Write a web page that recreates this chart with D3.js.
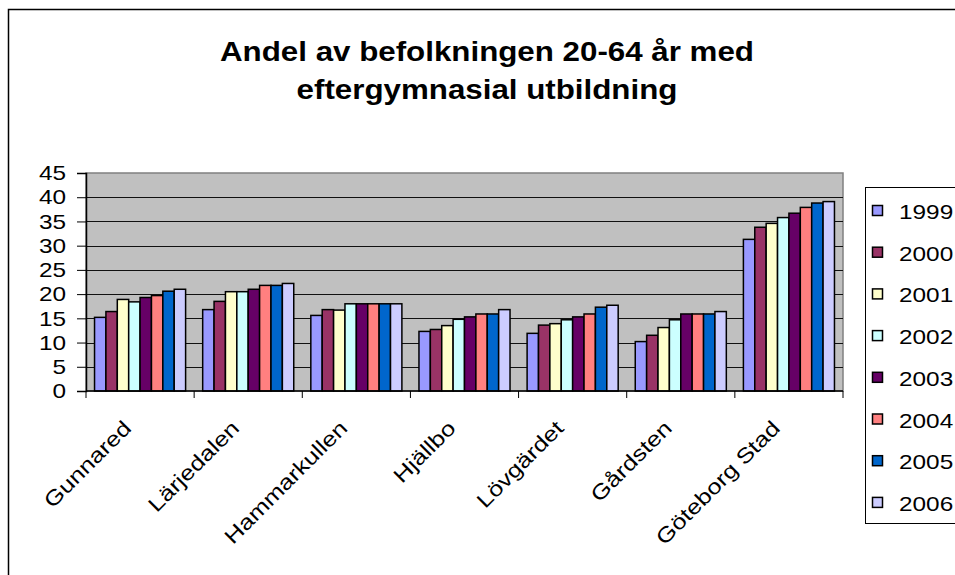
<!DOCTYPE html>
<html>
<head>
<meta charset="utf-8">
<script src="https://cdn.jsdelivr.net/npm/d3@7"></script>
<style>
  body { margin: 0; background: #fff; }
  svg text { font-family: "Liberation Sans", Arial, sans-serif; }
</style>
</head>
<body>
<svg id="chart" width="955" height="575"></svg>
<script>
// data
var omraden = ["Gunnared", "Lärjedalen", "Hammarkullen", "Hjällbo", "Lövgärdet", "Gårdsten", "Göteborg Stad"];
var ar = ["1999", "2000", "2001", "2002", "2003", "2004", "2005", "2006"];
var v1999 = [15.2, 16.8, 15.6, 12.3, 11.9, 10.2, 31.3];
var v2000 = [16.4, 18.5, 16.8, 12.7, 13.6, 11.5, 33.8];
var v2001 = [18.9, 20.5, 16.7, 13.5, 13.9, 13.1, 34.6];
var v2002 = [18.4, 20.5, 18.0, 14.8, 14.7, 14.7, 35.8];
var v2003 = [19.3, 21.0, 18.0, 15.3, 15.3, 15.9, 36.7];
var v2004 = [19.7, 21.8, 18.0, 15.9, 15.9, 15.9, 37.9];
var v2005 = [20.6, 21.8, 18.0, 15.9, 17.3, 15.9, 38.8];
var v2006 = [21.0, 22.2, 18.0, 16.8, 17.7, 16.4, 39.1];
var yTicks = [0, 5, 10, 15, 20, 25, 30, 35, 40, 45];
var titel = ["Andel av befolkningen 20-64 år med", "eftergymnasial utbildning"];

var serier = [v1999, v2000, v2001, v2002, v2003, v2004, v2005, v2006];
var color = ["#9999ff", "#993366", "#ffffcc", "#ccffff", "#660066", "#ff8080", "#0066cc", "#ccccff"];

// the original text is a bit wider than normal Arial
var sx = 1.16;

var svg = d3.select("#chart");

// outer chart border (runs off the picture right and bottom)
svg.append("rect")
  .attr("x", 8.5).attr("y", 9.5)
  .attr("width", 1000).attr("height", 1000)
  .attr("fill", "#fff").attr("stroke", "#000").attr("stroke-width", 1.5);

// title
svg.append("g")
  .attr("transform", "translate(487,61) scale(" + sx + ",1)")
  .append("text")
  .attr("text-anchor", "middle")
  .style("font-size", "27px").style("font-weight", "bold")
  .selectAll("tspan")
  .data(titel)
  .enter()
  .append("tspan")
    .attr("x", 0)
    .attr("dy", function(d, i) { return i == 0 ? 0 : 38; })
    .text(function(d) { return d; });

var pLeft = 86, pRight = 843, pTop = 173, pBottom = 391;

var x0 = d3.scaleBand()
  .domain(omraden)
  .range([pLeft, pRight])
  .paddingInner(1.5 / 9.5)
  .paddingOuter(0.75 / 9.5);

var x1 = d3.scaleBand()
  .domain(ar)
  .range([0, x0.bandwidth()]);

var y = d3.scaleLinear()
  .domain([0, 45])
  .range([pBottom, pTop]);

// plot area
svg.append("rect")
  .attr("x", pLeft).attr("y", pTop)
  .attr("width", pRight - pLeft).attr("height", pBottom - pTop)
  .attr("fill", "#c0c0c0").attr("stroke", "#808080").attr("stroke-width", 1.5);

// gridlines
svg.append("g")
  .selectAll("line")
  .data(yTicks.filter(function(d) { return d > 0 && d < 45; }))
  .enter()
  .append("line")
    .attr("x1", pLeft).attr("x2", pRight)
    .attr("y1", function(d) { return Math.round(y(d)) + 0.5; })
    .attr("y2", function(d) { return Math.round(y(d)) + 0.5; })
    .attr("stroke", "#111").attr("stroke-width", 1);

// bars
var grupper = svg.append("g")
  .selectAll("g")
  .data(serier)
  .enter()
  .append("g")
    .attr("fill", function(d, i) { return color[i]; });

grupper.selectAll("rect")
  .data(function(d, i) { return d.map(function(v, j) { return {ar: ar[i], omr: omraden[j], v: v}; }); })
  .enter()
  .append("rect")
    .attr("x", function(d) { return x0(d.omr) + x1(d.ar); })
    .attr("y", function(d) { return y(d.v); })
    .attr("width", x1.bandwidth())
    .attr("height", function(d) { return pBottom - y(d.v); })
    .attr("stroke", "#000").attr("stroke-width", 1.5);

// y axis
var yAxis = svg.append("g")
  .attr("transform", "translate(" + pLeft + ",0)")
  .call(d3.axisLeft(y).tickValues(yTicks).tickSize(9).tickPadding(0));
yAxis.select(".domain").attr("stroke", "#000").attr("stroke-width", 1.5);
yAxis.selectAll("line").attr("stroke", "#000");
yAxis.selectAll("text")
  .attr("x", 0)
  .attr("transform", "translate(-20,0) scale(" + sx + ",1)")
  .attr("font-family", null).attr("font-size", null)
  .style("font-size", "21px").attr("fill", "#000");

// x axis: ticks at category boundaries
var grans = omraden.map(function(d) { return x0(d) - x0.step() * x0.paddingInner() / 2; });
grans.push(pRight);
var xAxis = svg.append("g");
xAxis.append("line")
  .attr("x1", pLeft).attr("x2", pRight)
  .attr("y1", pBottom).attr("y2", pBottom)
  .attr("stroke", "#000").attr("stroke-width", 1.5);
xAxis.selectAll(".tick")
  .data(grans)
  .enter()
  .append("line")
    .attr("x1", function(d) { return d; }).attr("x2", function(d) { return d; })
    .attr("y1", pBottom).attr("y2", pBottom + 7)
    .attr("stroke", "#000");

xAxis.selectAll(".lbl")
  .data(omraden)
  .enter()
  .append("text")
    .attr("transform", function(d) {
      return "translate(" + (x0(d) + x0.bandwidth() / 2 - 18) + "," + (pBottom + 28) + ") rotate(-45) scale(1.21,1)";
    })
    .attr("text-anchor", "end")
    .attr("dy", "0.7em")
    .style("font-size", "21px")
    .text(function(d) { return d; });

// legend
var legend = svg.append("g");
legend.append("rect")
  .attr("x", 865.5).attr("y", 187.5)
  .attr("width", 200).attr("height", 336)
  .attr("fill", "#fff").attr("stroke", "#000").attr("stroke-width", 1);

var item = legend.selectAll(".item")
  .data(ar)
  .enter()
  .append("g")
    .attr("transform", function(d, i) { return "translate(872," + (211 + i * 41.7) + ")"; });
item.append("rect")
  .attr("x", 0.5).attr("y", -5.5)
  .attr("width", 10).attr("height", 10)
  .attr("fill", function(d, i) { return color[i]; })
  .attr("stroke", "#000").attr("stroke-width", 1.5);
item.append("text")
  .attr("transform", "translate(27,8) scale(" + sx + ",1)")
  .style("font-size", "21px")
  .text(function(d) { return d; });
</script>
</body>
</html>
